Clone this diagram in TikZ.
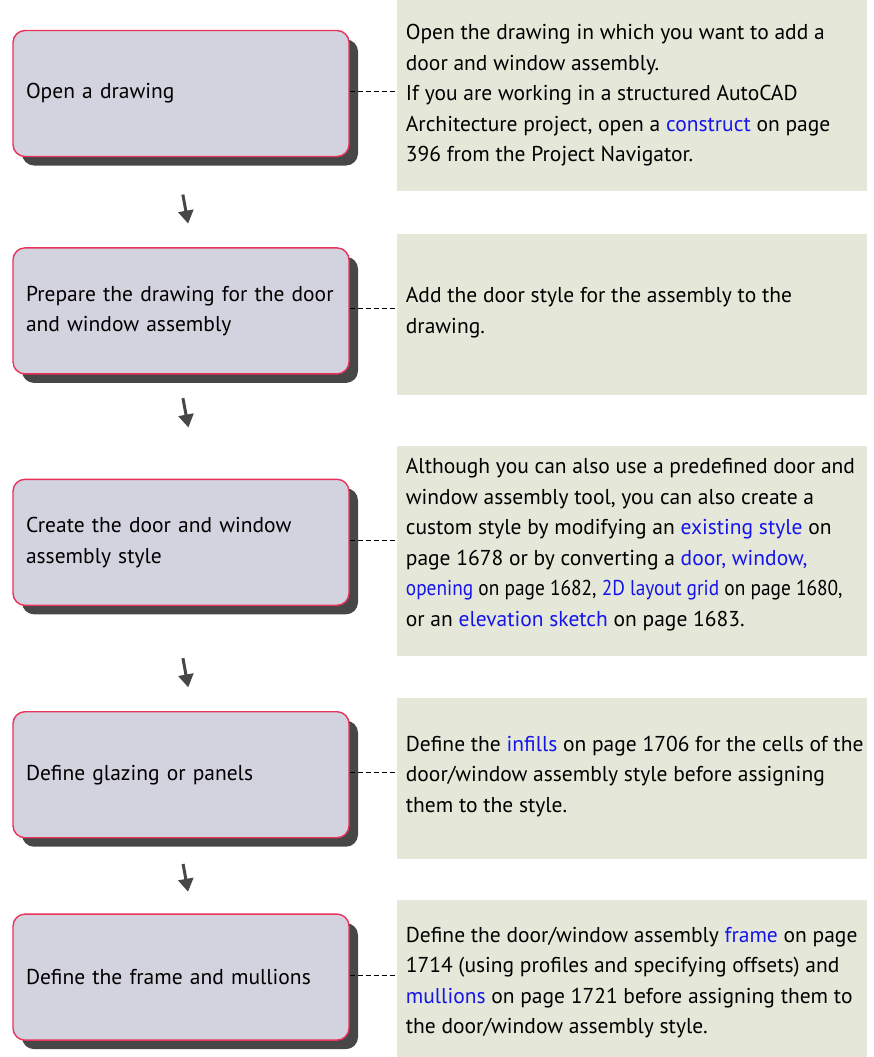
\documentclass[tikz,border=0pt]{standalone}
\usepackage{fontspec}
\setmainfont{PT Sans}
\usetikzlibrary{positioning}
\usetikzlibrary{shadows}
\usetikzlibrary{arrows.meta}
\definecolor{stepfill}{RGB}{211,211,223}
\definecolor{stepline}{RGB}{232,51,90}
\definecolor{notefill}{RGB}{229,232,216}
\definecolor{linkblue}{RGB}{20,20,235}
\newcommand{\lnk}[1]{\textcolor{linkblue}{#1}}
\tikzset{
  stepbox/.style={draw=stepline, line width=1.4pt, rounded corners=12pt, fill=stepfill,
    minimum width=336pt, minimum height=126pt, text width=310pt, align=left, inner sep=0pt,
    font=\fontsize{21.5pt}{30.5pt}\selectfont,
    drop shadow={shadow xshift=9pt, shadow yshift=-9pt, fill=black!72, opacity=1}},
  notebox/.style={fill=notefill, minimum width=470pt, inner sep=0pt},
  notetext/.style={align=left, inner sep=0pt, font=\fontsize{21.5pt}{30.5pt}\selectfont},
  flow/.style={-{Triangle[length=13pt,width=15pt]}, line width=3pt, black!72,
    shorten >=24pt},
  tie/.style={dash pattern=on 5pt off 3pt, line width=1pt}
}
\begin{document}
\begin{tikzpicture}[node distance=47pt]
			\useasboundingbox (0,0) rectangle (873pt,-1057pt);
			% Nodes
			\node[stepbox] (open) at (181pt,-93.5pt) {Open a drawing};
			\node[stepbox, below=90pt of open] (prepare) {Prepare the drawing for the door\\and window assembly};
			\node[stepbox, below=104pt of prepare] (create) {Create the door and window\\assembly style};
			\node[stepbox, below=105pt of create] (glazing) {Define glazing or panels};
			\node[stepbox, below=75pt of glazing] (frame) {Define the frame and mullions};
			\node[notebox, minimum height=191pt, right=of open, yshift=-2pt] (opennote) {};
			\node[notebox, minimum height=161pt, right=of prepare, yshift=-4pt] (preparenote) {};
			\node[notebox, minimum height=210pt, right=of create, yshift=-8.5pt] (createnote) {};
			\node[notebox, minimum height=161pt, right=of glazing, yshift=-4pt] (glazingnote) {};
			\node[notebox, minimum height=159pt, right=of frame, yshift=-2pt] (framenote) {};
			% Note texts
			\node[notetext, right=9pt of opennote.west] (opentext) {Open the drawing in which you want to add a\\door and window assembly.\\If you are working in a structured AutoCAD\\Architecture project, open a \lnk{construct} on page\\396 from the Project Navigator.};
			\node[notetext, right=9pt of preparenote.west, yshift=2.5pt] (preparetext) {Add the door style for the assembly to the\\drawing.};
			\node[notetext, right=9pt of createnote.west, yshift=6pt] (createtext) {Although you can also use a predefined door and\\window assembly tool, you can also create a\\custom style by modifying an \lnk{existing style} on\\page 1678 or by converting a \lnk{door, window,}\\{\addfontfeature{FakeStretch=0.9}\lnk{opening} on page 1682, \lnk{2D layout grid} on page 1680,}\\or an \lnk{elevation sketch} on page 1683.};
			\node[notetext, right=9pt of glazingnote.west, yshift=2.5pt] (glazingtext) {Define the \lnk{infills} on page 1706 for the cells of the\\door/window assembly style before assigning\\them to the style.};
			\node[notetext, right=9pt of framenote.west, yshift=-3.5pt] (frametext) {Define the door/window assembly \lnk{frame} on page\\1714 (using profiles and specifying offsets) and\\\lnk{mullions} on page 1721 before assigning them to\\the door/window assembly style.};
			% Arrows
			\draw[flow, shorten <=38pt] ([xshift=-5pt]open.south) -- ([xshift=11.5pt]prepare.north);
			\draw[flow, shorten <=24pt, shorten >=52pt] ([xshift=-2.5pt]prepare.south) -- ([xshift=17pt]create.north);
			\draw[flow, shorten <=53pt] ([xshift=-7.5pt]create.south) -- ([xshift=11.5pt]glazing.north);
			\draw[flow, shorten <=26pt, shorten >=22pt] ([xshift=-2.5pt]glazing.south) -- ([xshift=11pt]frame.north);
			% Dashed ties
			\foreach \s in {open, prepare, create, glazing, frame}
				\draw[tie] ([yshift=2pt]\s.east) -- ([yshift=2pt]\s.east -| \s note.west);
		\end{tikzpicture}
\end{document}
